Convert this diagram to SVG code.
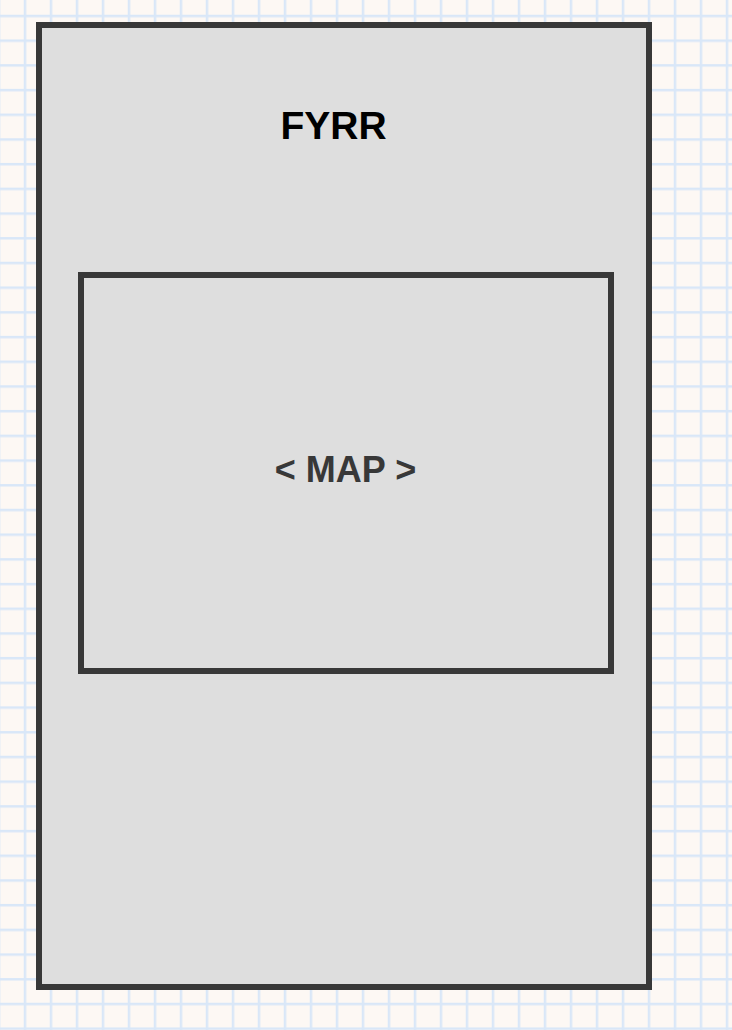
<svg xmlns="http://www.w3.org/2000/svg" width="732" height="1030" viewBox="0 0 732 1030">
  <defs>
    <pattern id="grid" x="23.75" y="14.75" width="26" height="24.7" patternUnits="userSpaceOnUse">
      <rect x="0" y="0" width="2.5" height="24.7" fill="#d9e7f8"/>
      <rect x="0" y="0" width="26" height="2.5" fill="#d9e7f8"/>
    </pattern>
  </defs>
  <style>
    .box { fill: #dedede; stroke: #383838; stroke-width: 6; }
    .title { font-family: "Liberation Sans", Arial, sans-serif; font-weight: bold; text-anchor: middle; }
  </style>
  <rect x="0" y="0" width="732" height="1030" fill="#fdf8f4"/>
  <rect x="0" y="0" width="732" height="1030" fill="url(#grid)"/>
  <g id="phone">
    <rect class="box" x="39" y="25" width="610" height="962"/>
    <text class="title" x="333.5" y="139" font-size="39" fill="#000000">FYRR</text>
  </g>
  <g id="map">
    <rect class="box" x="81" y="275" width="530" height="396" stroke-width="5.5"/>
    <text class="title" x="345.5" y="482" font-size="36" fill="#383838">&lt; MAP &gt;</text>
  </g>
  <g id="connectors"/>
</svg>
